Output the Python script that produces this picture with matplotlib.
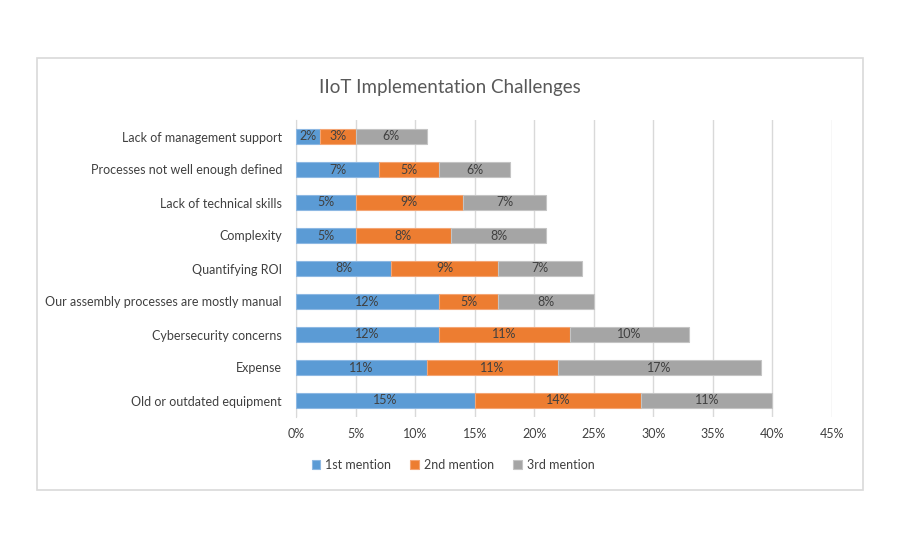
import matplotlib.pyplot as plt
import matplotlib.patches as patches
import numpy as np

plt.rcParams['font.family'] = ['Lato', 'DejaVu Sans']

categories = ['Old or outdated equipment', 'Expense', 'Cybersecurity concerns',
              'Our assembly processes are mostly manual', 'Quantifying ROI',
              'Complexity', 'Lack of technical skills',
              'Processes not well enough defined', 'Lack of management support']
first = [15, 11, 12, 12, 8, 5, 5, 7, 2]
second = [14, 11, 11, 5, 9, 8, 9, 5, 3]
third = [11, 17, 10, 8, 7, 8, 7, 6, 6]
series_names = ['1st mention', '2nd mention', '3rd mention']
colors = ['#5B9BD5', '#ED7D31', '#A5A5A5']
edges = ['#8DB8E3', '#F4A574', '#C4C4C4']

fig = plt.figure(figsize=(9, 5.5), dpi=100)
fig.patches.append(patches.Rectangle((37/900, 1-490/550), 826/900, 432/550,
                                     transform=fig.transFigure, fill=False,
                                     edgecolor='#D9D9D9', linewidth=1.2))
ax = fig.add_axes([296/900, 1-417/550, 536/900, 297/550])

y = np.arange(len(categories))
left = np.zeros(len(categories))
for vals, name, c, ec in zip([first, second, third], series_names, colors, edges):
    vals = np.array(vals)
    ax.barh(y, vals, left=left, height=0.43, color=c, edgecolor=ec,
            linewidth=0.8, label=name, zorder=3)
    for yi, l, v in zip(y, left, vals):
        ax.text(l + v/2, yi, f'{v}%', ha='center', va='center',
                fontsize=9, color='#404040', zorder=4)
    left = left + vals

ax.set_xlim(0, 45)
ax.set_ylim(-0.5, len(categories) - 0.5)
ax.set_xticks(np.arange(0, 46, 5))
ax.set_xticklabels([f'{t}%' for t in range(0, 46, 5)])
ax.set_yticks(y)
ax.set_yticklabels(categories)
ax.tick_params(axis='both', length=0, labelsize=9, colors='#404040')
ax.tick_params(axis='x', pad=8)
ax.tick_params(axis='y', pad=10)
ax.grid(axis='x', color='#D9D9D9', linewidth=1, zorder=0)
for s in ['top', 'right', 'bottom']:
    ax.spines[s].set_visible(False)
ax.spines['left'].set_color('#D9D9D9')

fig.text(0.5, 1-88/550, 'IIoT Implementation Challenges', ha='center', va='center',
         fontsize=13.5, color='#595959')

fig.legend(loc='center', bbox_to_anchor=(453/900, 1-465/550), ncol=3, frameon=False,
           fontsize=9, handlelength=0.7, handleheight=0.7, columnspacing=1.5,
           handletextpad=0.4, labelcolor='#404040')

fig.savefig('out.png', dpi=100)
